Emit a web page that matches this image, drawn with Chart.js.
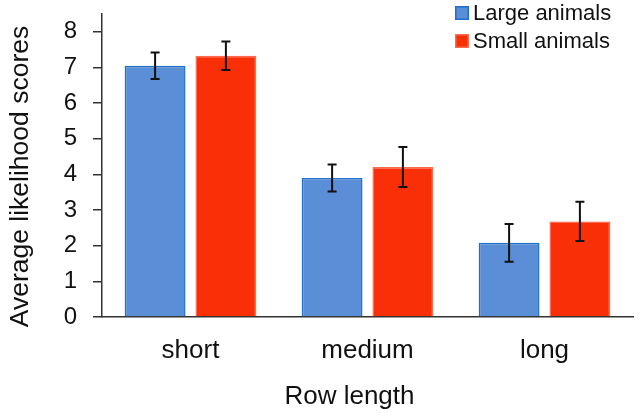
<!DOCTYPE html>
<html>
<head>
<meta charset="utf-8">
<script src="https://cdn.jsdelivr.net/npm/chart.js@4"></script>
<style>
html,body{margin:0;padding:0;background:#fff;}
#wrap{width:640px;height:417px;position:relative;}
</style>
</head>
<body>
<div id="wrap"><canvas id="c" width="640" height="417"></canvas></div>
<script>
const categories = ['short', 'medium', 'long'];
const seriesNames = ['Large animals', 'Small animals'];
const largeValues = [7.05, 3.90, 2.08];
const smallValues = [7.33, 4.21, 2.68];
const largeErrors = [0.37, 0.38, 0.53];
const smallErrors = [0.40, 0.56, 0.55];
const yTicks = [0, 1, 2, 3, 4, 5, 6, 7, 8];
const xTitle = 'Row length';
const yTitle = 'Average likelihood scores';

const FONT = "'Liberation Sans', Arial, sans-serif";

const errorBarPlugin = {
  id: 'errorBars',
  afterDatasetsDraw(chart) {
    const ctx = chart.ctx;
    const y = chart.scales.y;
    ctx.save();
    ctx.strokeStyle = '#111';
    ctx.lineWidth = 2;
    chart.data.datasets.forEach((ds, di) => {
      const meta = chart.getDatasetMeta(di);
      meta.data.forEach((bar, i) => {
        const v = ds.data[i], e = ds.errors[i];
        const x = bar.x;
        const yt = y.getPixelForValue(v + e);
        const yb = y.getPixelForValue(v - e);
        const cap = 4.5;
        ctx.beginPath();
        ctx.moveTo(x, yt); ctx.lineTo(x, yb);
        ctx.moveTo(x - cap, yt); ctx.lineTo(x + cap, yt);
        ctx.moveTo(x - cap, yb); ctx.lineTo(x + cap, yb);
        ctx.stroke();
      });
    });
    ctx.restore();
  }
};

const legendPlugin = {
  id: 'cornerLegend',
  afterDraw(chart) {
    const ctx = chart.ctx;
    ctx.save();
    ctx.font = '22px ' + FONT;
    ctx.textBaseline = 'middle';
    ctx.textAlign = 'left';
    chart.data.datasets.forEach((ds, i) => {
      const cy = 13 + i * 28;
      const bx = 455, size = 14;
      ctx.fillStyle = ds.backgroundColor;
      ctx.fillRect(bx, cy - size / 2, size, size);
      ctx.strokeStyle = ds.borderColor;
      ctx.lineWidth = 1.5;
      ctx.strokeRect(bx + 0.75, cy - size / 2 + 0.75, size - 1.5, size - 1.5);
      ctx.fillStyle = '#111';
      ctx.fillText(ds.label, 473, cy + 1);
    });
    ctx.restore();
  }
};

new Chart(document.getElementById('c'), {
  type: 'bar',
  data: {
    labels: categories,
    datasets: [
      { label: seriesNames[0], data: largeValues, errors: largeErrors,
        backgroundColor: '#5A8ED6', borderColor: '#1E70CC', borderWidth: 1.5 },
      { label: seriesNames[1], data: smallValues, errors: smallErrors,
        backgroundColor: '#F92F08', borderColor: '#FF6A4C', borderWidth: 1.5 }
    ]
  },
  options: {
    responsive: false,
    animation: false,
    devicePixelRatio: 1,
    layout: { padding: { left: 0, top: 14, right: 7, bottom: 0 } },
    datasets: { bar: { categoryPercentage: 0.80, barPercentage: 0.86 } },
    plugins: { legend: { display: false }, tooltip: { enabled: false } },
    scales: {
      x: {
        grid: { display: false, drawTicks: false },
        border: { display: true, color: '#333', width: 1.5 },
        ticks: { color: '#111', padding: 18, font: { family: FONT, size: 26 } },
        title: { display: true, text: xTitle + '     ', color: '#111',
                 font: { family: FONT, size: 26 }, padding: { top: 0, bottom: 5 } },
        afterFit(scale) { scale.height = 100; scale.paddingLeft = 0; scale.paddingRight = 0; }
      },
      y: {
        min: 0, max: 8.5,
        afterBuildTicks(axis) {
          axis.ticks = yTicks.map(v => ({ value: v }));
        },
        grid: { display: true, drawOnChartArea: false, drawTicks: true, tickLength: 9,
                color: '#333', lineWidth: 1.5 },
        border: { display: true, color: '#333', width: 1.5 },
        ticks: { color: '#111', padding: 16, font: { family: FONT, size: 24 } },
        title: { display: true, text: yTitle + '   ', color: '#111',
                 font: { family: FONT, size: 26.5 }, padding: { top: 5, bottom: 0 } },
        afterFit(scale) { scale.width = 102; scale.paddingTop = 0; scale.paddingBottom = 0; }
      }
    }
  },
  plugins: [errorBarPlugin, legendPlugin]
});
</script>
</body>
</html>
